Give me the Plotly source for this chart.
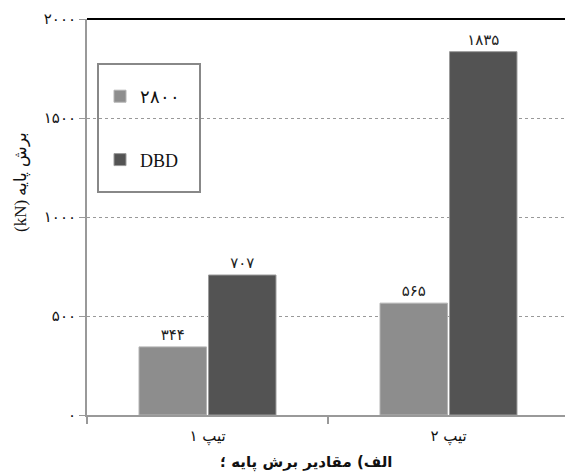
import plotly.graph_objects as go

# ---- data ----
categories = ["تیپ ۱", "تیپ ۲"]
series_names = ["۲۸۰۰", "DBD"]
values_2800 = [344, 565]
values_dbd = [707, 1835]
y_tick_values = [0, 500, 1000, 1500, 2000]

FA_DIGITS = "۰۱۲۳۴۵۶۷۸۹"


def fa(n):
    return "".join(FA_DIGITS[int(c)] for c in str(n))


W, H = 565, 472
L, R, T, B = 87, 0, 19, 57
PW, PH = W - L - R, H - T - B


def px_x(p):
    return (p - L) / PW


def px_y(p):
    return (H - B - p) / PH


fa_font = "DejaVu Sans"
serif = "Times New Roman, Liberation Serif, DejaVu Serif, serif"

fig = go.Figure()
fig.add_trace(go.Bar(
    name=series_names[0], x=categories, y=values_2800,
    text=[fa(v) for v in values_2800], textposition="outside",
    textfont=dict(size=15, color="#222", family=fa_font),
    marker=dict(color="#8d8d8d", line=dict(color="#b4b4b4", width=1)),
    legendgroup="a", cliponaxis=False,
))
fig.add_trace(go.Bar(
    name=series_names[1], x=categories, y=values_dbd,
    text=[fa(v) for v in values_dbd], textposition="outside",
    textfont=dict(size=15, color="#222", family=fa_font),
    marker=dict(color="#535353", line=dict(color="#9a9a9a", width=1)),
    legendgroup="b", cliponaxis=False,
))

fig.update_layout(
    width=W, height=H,
    margin=dict(l=L, r=R, t=T, b=B),
    plot_bgcolor="white", paper_bgcolor="white",
    barmode="group", bargap=0.423, bargroupgap=0.03,
    font=dict(family=serif, color="#111"),
    showlegend=True,
    legend=dict(
        x=px_x(100), y=px_y(78), xanchor="left", yanchor="top",
        bgcolor="rgba(0,0,0,0)", borderwidth=0,
        font=dict(size=18, family=serif, color="#111"),
        tracegroupgap=37, traceorder="grouped",
    ),
    xaxis=dict(
        range=[-0.5, -0.5 + PW / 241.0],
        showline=True, linecolor="#999", linewidth=2,
        ticks="outside", tickson="boundaries", ticklen=7,
        tickcolor="#999", tickwidth=2, ticklabelstandoff=6,
        tickfont=dict(size=15, family=fa_font, color="#111"),
        showgrid=False, zeroline=False,
    ),
    yaxis=dict(
        range=[0, 2000],
        tickvals=y_tick_values, ticktext=[fa(v) for v in y_tick_values],
        tickfont=dict(size=15, family=fa_font, color="#111"),
        showline=True, linecolor="#999", linewidth=2,
        ticks="outside", ticklen=6, tickcolor="#999", tickwidth=1,
        showgrid=True, gridcolor="#999", gridwidth=1, griddash="dot",
        zeroline=False,
    ),
)

# top border line (at the 2000 level = top of plot area)
fig.add_shape(type="line", xref="paper", yref="paper", x0=0, x1=1, y0=1, y1=1,
              line=dict(color="black", width=2))
# legend box
fig.add_shape(type="rect", xref="paper", yref="paper",
              x0=px_x(98), x1=px_x(200), y0=px_y(192), y1=px_y(64),
              line=dict(color="#888", width=2), fillcolor="rgba(0,0,0,0)")

# y-axis title
fig.add_annotation(
    text="(kN) برش پایه", xref="paper", yref="paper",
    x=px_x(21), y=px_y(182), textangle=-90, showarrow=False,
    font=dict(size=17, family=serif, color="#111"),
    xanchor="center", yanchor="middle",
)
# caption
fig.add_annotation(
    text="<b>الف) مقادیر برش پایه ؛</b>", xref="paper", yref="paper",
    x=px_x(306), y=px_y(462), showarrow=False,
    font=dict(size=15, family=fa_font, color="#111"),
    xanchor="center", yanchor="middle",
)

fig.write_html(
    "out.html",
    config={"displayModeBar": False},
    post_script="document.body.style.margin='0';document.body.style.overflow='hidden';",
)
